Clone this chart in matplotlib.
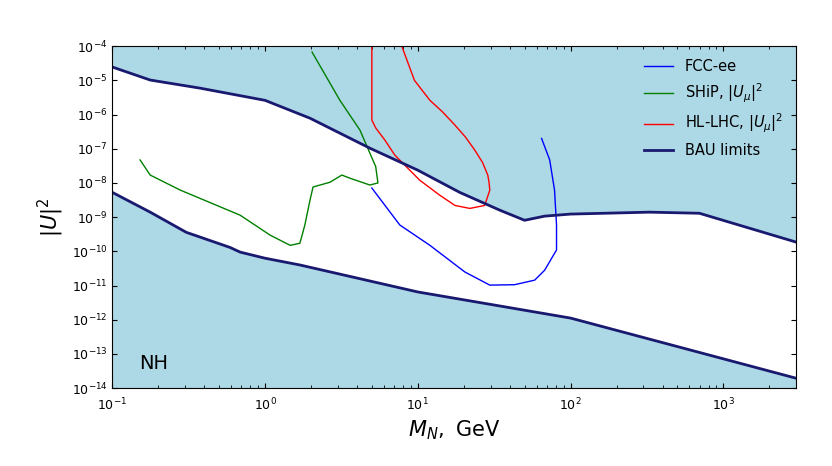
import matplotlib
matplotlib.use('Agg')
import matplotlib.pyplot as plt
import numpy as np

# BAU limits
bau_up_m = [0.1, 0.177, 0.376, 1.0, 1.97, 4.85, 10, 18.8, 34.4, 50, 67.6, 100, 328, 697, 3000]
bau_up_u = [2.45e-5, 1.02e-5, 5.9e-6, 2.6e-6, 7.8e-7, 1.04e-7, 2.36e-8, 5.3e-9, 1.6e-9, 8.1e-10, 1.07e-9, 1.23e-9, 1.4e-9, 1.3e-9, 1.86e-10]
bau_lo_m = [0.1, 0.177, 0.305, 0.59, 0.687, 1.0, 1.69, 10, 100, 3000]
bau_lo_u = [5.3e-9, 1.4e-9, 3.6e-10, 1.3e-10, 9.5e-11, 6.3e-11, 4e-11, 6.5e-12, 1.12e-12, 1.95e-14]

# SHiP
ship_m = [0.152, 0.177, 0.278, 0.687, 1.08, 1.46, 1.69, 1.82, 1.97, 2.06, 2.66, 3.18, 3.59, 4.85, 5.48, 5.3, 4.18, 3.09, 2.03]
ship_u = [4.7e-8, 1.7e-8, 6.2e-9, 1.14e-9, 2.97e-10, 1.5e-10, 1.73e-10, 5.8e-10, 3.2e-9, 7.6e-9, 1.05e-8, 1.7e-8, 1.38e-8, 8.7e-9, 1.0e-8, 3e-8, 3.5e-7, 2.6e-6, 6.7e-5]

# HL-LHC
lhc_m = [5.0, 5.0, 5.31, 6.08, 7.07, 8.22, 10.3, 13.9, 17.5, 21.9, 27.4, 29.6, 29.2, 28.7, 26.5, 23.6, 20.5, 17.5, 14.5, 12.0, 9.5, 7.85]
lhc_u = [1e-4, 6.9e-7, 4e-7, 1.8e-7, 6.5e-8, 3.3e-8, 1.2e-8, 4.4e-9, 2.2e-9, 1.8e-9, 2.2e-9, 6.2e-9, 1.1e-8, 1.7e-8, 4e-8, 9.1e-8, 2.2e-7, 4.9e-7, 1.2e-6, 2.6e-6, 1e-5, 1e-4]

# FCC-ee
fcc_m = [5.0, 7.62, 12.0, 20.3, 29.6, 43, 58.2, 67.6, 80.9, 80.9, 78.5, 73, 64.6]
fcc_u = [7.1e-9, 5.9e-10, 1.5e-10, 2.5e-11, 1.03e-11, 1.06e-11, 1.44e-11, 2.8e-11, 1.1e-10, 5.9e-10, 6.2e-9, 4.7e-8, 2e-7]

fig = plt.figure(figsize=(8.32, 4.66), dpi=100)
ax = fig.add_axes([0.135, 0.167, 0.822, 0.734])
ax.set_facecolor('#add8e6')

# white allowed band between the BAU limits
mg = np.logspace(-1, np.log10(3000), 400)
up = np.exp(np.interp(np.log(mg), np.log(bau_up_m), np.log(bau_up_u)))
lo = np.exp(np.interp(np.log(mg), np.log(bau_lo_m), np.log(bau_lo_u)))
ax.fill_between(mg, lo, up, color='white', lw=0)

ax.plot(fcc_m, fcc_u, color='blue', lw=1, label='FCC-ee')
ax.plot(ship_m, ship_u, color='green', lw=1, label=r'SHiP, $|U_\mu|^2$')
ax.plot(lhc_m, lhc_u, color='red', lw=1, label=r'HL-LHC, $|U_\mu|^2$')
ax.plot(bau_up_m, bau_up_u, color='#191970', lw=2, label='BAU limits')
ax.plot(bau_lo_m, bau_lo_u, color='#191970', lw=2)

ax.set_xscale('log')
ax.set_yscale('log')
ax.set_xlim(0.1, 3000)
ax.set_ylim(1e-14, 1e-4)
ax.set_yticks([10.0 ** k for k in range(-14, -3)])
ax.tick_params(which='both', direction='in', top=True, right=True, labelsize=9)
ax.tick_params(axis='x', pad=6)
ax.set_xlabel(r'$M_N,\ \mathrm{GeV}$', fontsize=15)
ax.set_ylabel(r'$|U|^2$', fontsize=15)
ax.text(0.15, 3.6e-14, 'NH', fontsize=14)
ax.legend(loc='upper right', frameon=False, fontsize=10.5)

plt.savefig('out.png', dpi=100)
